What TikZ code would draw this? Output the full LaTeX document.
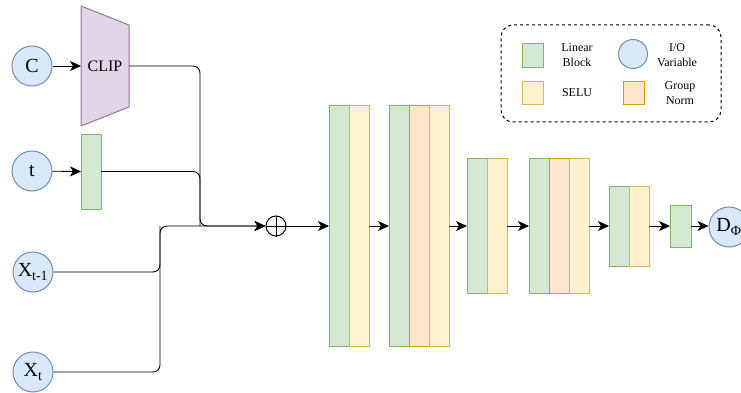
\documentclass[tikz,border=0pt]{standalone}
\usepackage{fontspec}
\setmainfont{Liberation Serif}
\usetikzlibrary{arrows.meta,positioning}
\definecolor{iofill}{HTML}{DAE8FC}
\definecolor{ioline}{HTML}{6C8EBF}
\definecolor{linfill}{HTML}{D5E8D4}
\definecolor{linline}{HTML}{82B366}
\definecolor{selufill}{HTML}{FFF2CC}
\definecolor{seluline}{HTML}{D6B656}
\definecolor{gnfill}{HTML}{FFE6CC}
\definecolor{gnline}{HTML}{D79B00}
\definecolor{clipfill}{HTML}{E1D5E7}
\definecolor{clipline}{HTML}{9673A6}
\tikzset{
  io/.style={circle,draw=ioline,fill=iofill,line width=1pt,minimum size=40pt,inner sep=0pt,font=\fontsize{20}{22}\selectfont},
  lin/.style={draw=linline,fill=linfill,line width=1pt,minimum width=20pt,inner sep=0pt,outer sep=0pt},
  selu/.style={draw=seluline,fill=selufill,line width=1pt,minimum width=20pt,inner sep=0pt,outer sep=0pt},
  gnorm/.style={draw=gnline,fill=gnfill,line width=1pt,minimum width=20pt,inner sep=0pt,outer sep=0pt},
  conn/.style={line width=0.9pt,rounded corners=7pt},
  arr/.style={conn,-{Stealth[length=11pt,width=10pt,inset=3pt]}},
  legtext/.style={align=center,font=\fontsize{12}{15}\selectfont}
}
\begin{document}
\begin{tikzpicture}[x=1pt,y=-1pt]
\useasboundingbox (0,0) rectangle (741,393);
\clip (0,0) rectangle (741,393);

\node[io] (c) at (32,66) {C};
\node[io] (t) at (32,171) {t};
\node[io] (xtm) at (33,272) {X\textsubscript{t-1}};
\node[io] (xt) at (33,372) {X\textsubscript{t}};

\filldraw[draw=clipline,fill=clipfill,line width=1pt] (81,6) -- (129,25) -- (129,107) -- (81,126) -- cycle;
\node[minimum width=48pt,minimum height=81pt,outer sep=0pt,font=\fontsize{16}{18}\selectfont] (clip) at (105,66) {CLIP};
\node[lin,minimum height=75pt] (temb) at (91,171.5) {};

\coordinate (jn) at (200,226);
\coordinate (jx) at (160,226);
\node[circle,draw,line width=1pt,minimum size=20pt,inner sep=0pt] (plus) at (276,226) {};
\draw[line width=1pt] (plus.north) -- (plus.south) (plus.west) -- (plus.east);

\node[lin,minimum height=241pt] (b1g) at (339,226) {};
\node[selu,minimum height=241pt,right=0pt of b1g] (b1s) {};
\node[lin,minimum height=241pt] (b2g) at (399,226) {};
\node[gnorm,minimum height=241pt,right=0pt of b2g] (b2n) {};
\node[selu,minimum height=241pt,right=0pt of b2n] (b2s) {};
\node[lin,minimum height=135pt] (b3g) at (477,226) {};
\node[selu,minimum height=135pt,right=0pt of b3g] (b3s) {};
\node[lin,minimum height=135pt] (b4g) at (539,226) {};
\node[gnorm,minimum height=135pt,right=0pt of b4g] (b4n) {};
\node[selu,minimum height=135pt,right=0pt of b4n] (b4s) {};
\node[lin,minimum height=80pt] (b5g) at (619,226) {};
\node[selu,minimum height=80pt,right=0pt of b5g] (b5s) {};
\node[lin,minimum width=21pt,minimum height=42pt] (b6g) at (680.5,226) {};
\node[io] (out) at (729,227) {D\textsubscript{Φ}};

\draw[arr] (c) -- (clip.west);
\draw[arr] (t) -- (temb.west);
\draw[arr] (clip.east) -| (jn) -- (plus.west);
\draw[conn] (temb.east) -| (jn);
\draw[arr] (xt) -| (jx) -- (plus.west);
\draw[conn] (xtm) -| (jx);
\draw[arr] (plus) -- (b1g.west);
\draw[arr] (b1s.east) -- (b2g.west);
\draw[arr] (b2s.east) -- (b3g.west);
\draw[arr] (b3s.east) -- (b4g.west);
\draw[arr] (b4s.east) -- (b5g.west);
\draw[arr] (b5s.east) -- (b6g.west);
\draw[arr] (b6g.east) -- (out.west |- b6g.east);

\node[draw,dashed,dash pattern=on 3pt off 3pt,line width=1pt,rounded corners=12pt,minimum width=220pt,minimum height=97pt] (legend) at (611,73.5) {};
\node[lin,minimum width=21pt,minimum height=24pt] (klin) at (532.5,56) {};
\node[legtext] (tlin) at (577,55) {Linear\\Block};
\node[circle,draw=ioline,fill=iofill,line width=1pt,minimum size=29pt,inner sep=0pt] (kio) at (633,54) {};
\node[legtext] (tio) at (677,55) {I/O\\Variable};
\node[selu,minimum width=21pt,minimum height=23pt] (kselu) at (532.5,93.5) {};
\node[legtext] (tselu) at (577,93) {SELU};
\node[gnorm,minimum width=21pt,minimum height=23pt] (kgn) at (633.5,93.5) {};
\node[legtext] (tgn) at (680,93) {Group\\Norm};
\end{tikzpicture}
\end{document}
